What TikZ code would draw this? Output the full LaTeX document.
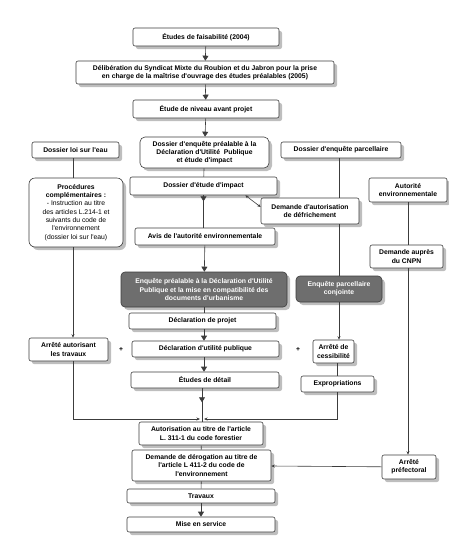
\documentclass[tikz,border=0pt]{standalone}
\usepackage{fontspec}
\setmainfont{Liberation Sans}[Ligatures=TeXOff]
\usetikzlibrary{positioning,arrows.meta,shadows,decorations.markings,calc}
\definecolor{frame}{RGB}{60,60,60}
\definecolor{dark}{RGB}{110,110,110}
\definecolor{shade}{RGB}{190,190,190}
\tikzset{
  wbox/.style={rectangle, rounded corners=2pt, draw=frame, fill=white, align=center,
               inner sep=1pt, line width=0.6pt,
               drop shadow={shadow xshift=3pt, shadow yshift=-3pt, fill=shade, opacity=1}},
  roundbox/.style={wbox, rounded corners=5pt},
  darkbox/.style={wbox, rounded corners=4pt, fill=dark, text=white},
  sz/.style 2 args={minimum width=#1pt, minimum height=#2pt},
  ln/.style={draw=frame, line width=0.6pt},
  ar/.style={ln, -{Triangle[length=5pt, width=6pt]}},
  sar/.style={ln, -{Stealth[length=3.5pt, width=3pt]}},
  dar/.style={ln, {Stealth[length=3.5pt, width=3pt]}-{Stealth[length=3.5pt, width=3pt]}},
  midar/.style={ln, postaction=decorate, decoration={markings,
                mark=at position #1 with {\arrow{Triangle[length=5pt, width=6pt]}}}},
}

\begin{document}
\begin{tikzpicture}[x=1pt, y=-1pt, font=\fontsize{6.8}{8.3}\selectfont\bfseries]
  \useasboundingbox (0,0) rectangle (449,558);
  % colonne principale
  \node[wbox, sz={146}{18}] (fais) at (206,37) {Études de faisabilité (2004)};
  \node[wbox, sz={258}{23}] (delib) at (205,72.5) {Délibération du Syndicat Mixte du Roubion et du Jabron pour la prise\\en charge de la maîtrise d'ouvrage des études préalables (2005)};
  \node[wbox, sz={146}{18}] (niveau) at (206,109) {Étude de niveau avant projet};
  \node[roundbox, sz={129}{31}] (dossdup) at (204.5,152.5) {Dossier d'enquête préalable à la\\Déclaration d'Utilité~ Publique\\et étude d'impact};
  \node[wbox, sz={147}{18}] (impact) at (203.5,186) {Dossier d'étude d'impact};
  \node[wbox, sz={140}{17}] (avis) at (205,236.5) {Avis de l'autorité environnementale};
  \node[darkbox, sz={166}{35}] (enqdup) at (204,289.5) {Enquête préalable à la Déclaration d'Utilité\\Publique et la mise en compatibilité des\\documents d'urbanisme};
  \node[wbox, sz={147}{16}] (declproj) at (202.5,321) {Déclaration de projet};
  \node[wbox, sz={147}{16}] (dup) at (205.5,349) {Déclaration d'utilité publique};
  \node[wbox, sz={148}{16}] (detail) at (205,380) {Études de détail};
  \node[wbox, sz={124}{23}] (autfor) at (201,433.5) {Autorisation au titre de l'article\\L. 311-1 du code forestier};
  \node[wbox, sz={139}{31}] (derog) at (201.5,465.5) {Demande de dérogation au titre de\\l'article L 411-2 du code de\\l'environnement};
  \node[wbox, sz={148}{14}] (travaux) at (201,496) {Travaux};
  \node[wbox, sz={148}{15}] (mise) at (201,524.5) {Mise en service};
  % branche loi sur l'eau
  \node[wbox, sz={87}{16}] (eau) at (75.5,150) {Dossier loi sur l'eau};
  \node[roundbox, rounded corners=6pt, sz={94}{69}] (proc) at (76,212.5) {Procédures\\complémentaires :\\\mdseries - Instruction au titre\\\mdseries des articles L.214-1 et\\\mdseries suivants du code de\\\mdseries l'environnement\\\mdseries (dossier loi sur l'eau)};
  \node[wbox, sz={79}{23}] (arrtrav) at (68.5,349.5) {Arrêté autorisant\\les travaux};
  % branche parcellaire
  \node[wbox, sz={120}{16}] (parc) at (341,150) {Dossier d'enquête parcellaire};
  \node[wbox, sz={98}{26}] (defr) at (310,211) {Demande d'autorisation\\de défrichement};
  \node[darkbox, sz={86}{26}] (enqparc) at (339,289) {Enquête parcellaire\\conjointe};
  \node[wbox, sz={41}{23}] (cess) at (333.5,351.5) {Arrêté de\\cessibilité};
  \node[wbox, sz={73}{16}] (exprop) at (337.5,384) {Expropriations};
  % branche autorité environnementale
  \node[wbox, sz={78}{24}] (autenv) at (408,190) {Autorité\\environnementale};
  \node[wbox, sz={73}{23}] (cnpn) at (406.5,256.5) {Demande auprès\\du CNPN};
  \node[wbox, sz={54}{24}] (prefec) at (409,467) {Arrêté\\préfectoral};
  \node (plus1) at (121,349) {+};
  \node (plus2) at (298,349) {+};
  \coordinate (join) at (202,419);

  \draw[ar] (fais) -- (delib);
  \draw[ar] (delib) -- (niveau);
  \draw[ar] (niveau) -- (dossdup);
  \draw[ln] (dossdup) -- (impact);
  \draw[midar=6pt] (impact) -- (impact |- avis.north);
  \draw[ar] (avis) -- (enqdup);
  \draw[ln] (enqdup) -- (enqdup |- declproj.north);
  \draw[ar] (declproj.south -| enqdup) -- (enqdup |- dup.north);
  \draw[ar] (dup.south -| enqdup) -- (enqdup |- detail.north);
  \draw[midar=14pt] (detail.south -| join) -- (join |- autfor.north);
  \draw[ln] (autfor) -- (derog);
  \draw[ln] (derog) -- (travaux);
  \draw[ar] (travaux) -- (mise);
  \draw[dar] ([xshift=-32pt]impact.south east) -- ([yshift=4pt]defr.west);

  \draw[ln] (eau.south -| 73,0) -- (proc.north -| 73,0);
  \draw[sar] (proc.south -| 73,0) -- (arrtrav.north -| 73,0);
  \draw[sar] (arrtrav.south -| 73,0) |- ([xshift=-2pt]join);

  \draw[ln] (enqparc |- parc.south) -- (enqparc |- defr.north);
  \draw[ln] (enqparc |- defr.south) -- (enqparc);
  \draw[sar] (enqparc) -- (enqparc |- cess.north);
  \draw[ln] (cess.south -| exprop) -- (exprop);
  \draw[sar] (exprop) |- ([xshift=2pt]join);

  \draw[ln] (autenv.south -| 408,0) -- (cnpn.north -| 408,0);
  \draw[sar] (cnpn.south -| 408,0) -- (prefec.north -| 408,0);
  \draw[sar] (prefec) -- (derog);
\end{tikzpicture}
\end{document}
